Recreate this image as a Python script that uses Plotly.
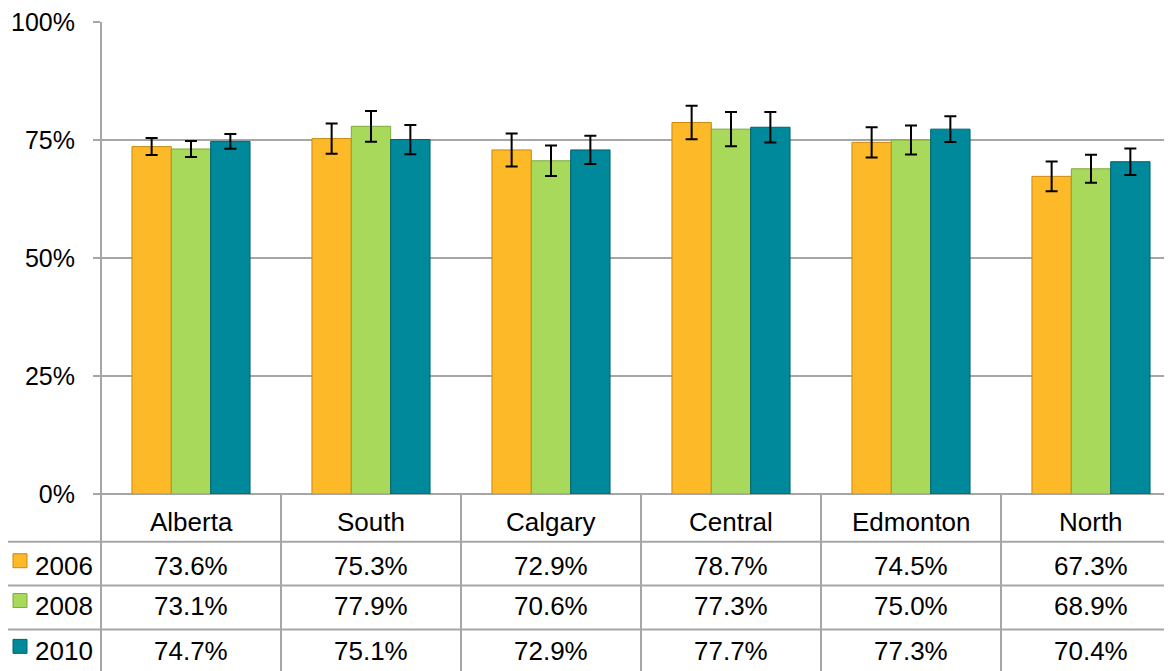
import plotly.graph_objects as go

regions = ["Alberta", "South", "Calgary", "Central", "Edmonton", "North"]
years = ["2006", "2008", "2010"]
v2006 = [73.6, 75.3, 72.9, 78.7, 74.5, 67.3]
v2008 = [73.1, 77.9, 70.6, 77.3, 75.0, 68.9]
v2010 = [74.7, 75.1, 72.9, 77.7, 77.3, 70.4]
e2006 = [1.8, 3.2, 3.5, 3.55, 3.2, 3.15]
e2008 = [1.7, 3.25, 3.25, 3.65, 3.05, 2.95]
e2010 = [1.55, 3.1, 3.0, 3.25, 2.75, 2.8]
ytick_vals = [0, 25, 50, 75, 100]
ytick_text = ["0%", "25%", "50%", "75%", "100%"]

values = [v2006, v2008, v2010]
errors = [e2006, e2008, e2010]
colors = ["#FDB927", "#A9D95B", "#00899B"]
edge = ["#C98A10", "#7FA83A", "#006070"]

OFF = 8  # page body margin
W, H = 1172, 671
P_LEFT, P_TOP, P_BOTTOM = 101, 20, 494
L = P_LEFT - OFF
T = P_TOP - OFF
B = H + OFF - P_BOTTOM
R = 0
plot_h = H - T - B
plot_w = W - L - R
cat_px = 180.0
x_end = -0.5 + plot_w / cat_px


def py(p):
    return (P_BOTTOM - p) / plot_h


def px(p):
    return (p - P_LEFT) / plot_w


FONT = "Liberation Sans, Arial, sans-serif"
GRID = "#A6A6A6"
FS = 26

fig = go.Figure()
idx = list(range(len(regions)))
for k, yr in enumerate(years):
    fig.add_trace(go.Bar(
        x=idx, y=values[k], name=yr,
        marker=dict(color=colors[k], line=dict(color=edge[k], width=1)),
        error_y=dict(type="data", array=errors[k], visible=True,
                     color="black", thickness=2, width=6),
        showlegend=False,
    ))

shapes = []
line = dict(color=GRID, width=2)
for p in [542, 586, 630]:
    shapes.append(dict(type="line", xref="paper", yref="paper",
                       x0=px(7), x1=1.0, y0=py(p), y1=py(p), line=line))
shapes.append(dict(type="line", xref="paper", yref="paper",
                   x0=px(7), x1=px(7), y0=py(542), y1=py(690), line=line))
shapes.append(dict(type="line", xref="paper", yref="paper",
                   x0=0, x1=0, y0=1, y1=py(690), line=line))
for i in range(len(regions) - 1):
    shapes.append(dict(type="line", xref="x", yref="paper",
                       x0=i + 0.5, x1=i + 0.5, y0=0, y1=py(690), line=line))

annotations = []
row_y = [566, 606, 652]
for i, r in enumerate(regions):
    annotations.append(dict(x=i, y=py(522), xref="x", yref="paper", text=r,
                            showarrow=False, font=dict(size=FS, color="black", family=FONT),
                            xanchor="center", yanchor="middle"))
    for k in range(len(years)):
        annotations.append(dict(x=i, y=py(row_y[k]), xref="x", yref="paper",
                                text=f"{values[k][i]:.1f}%", showarrow=False,
                                font=dict(size=FS, color="black", family=FONT),
                                xanchor="center", yanchor="middle"))
for k, yr in enumerate(years):
    cy = row_y[k] - 5
    shapes.append(dict(type="rect", xref="paper", yref="paper",
                       x0=px(13), x1=px(27), y0=py(cy - 7), y1=py(cy + 7),
                       fillcolor=colors[k], line=dict(color=edge[k], width=1)))
    annotations.append(dict(x=px(33), y=py(row_y[k]), xref="paper", yref="paper",
                            text=yr, showarrow=False,
                            font=dict(size=FS, color="black", family=FONT),
                            xanchor="left", yanchor="middle"))

fig.update_layout(
    width=W, height=H,
    margin=dict(l=L, r=R, t=T, b=B),
    plot_bgcolor="white", paper_bgcolor="white",
    barmode="group", bargap=0.344, bargroupgap=0,
    shapes=shapes, annotations=annotations,
    font=dict(family=FONT, size=FS, color="black"),
    xaxis=dict(range=[-0.5, x_end], showticklabels=False, ticks="",
               showgrid=False, zeroline=False, showline=False),
    yaxis=dict(range=[0, 100], tickvals=ytick_vals, ticktext=ytick_text,
               showgrid=True, gridcolor=GRID, gridwidth=2,
               zeroline=True, zerolinecolor=GRID, zerolinewidth=2,
               showline=False, ticks="outside", ticklen=7, tickwidth=2,
               tickcolor=GRID, ticklabelstandoff=13, ticklabeloverflow="allow",
               tickfont=dict(size=25, family=FONT, color="black")),
)

fig.write_html("out.html")
